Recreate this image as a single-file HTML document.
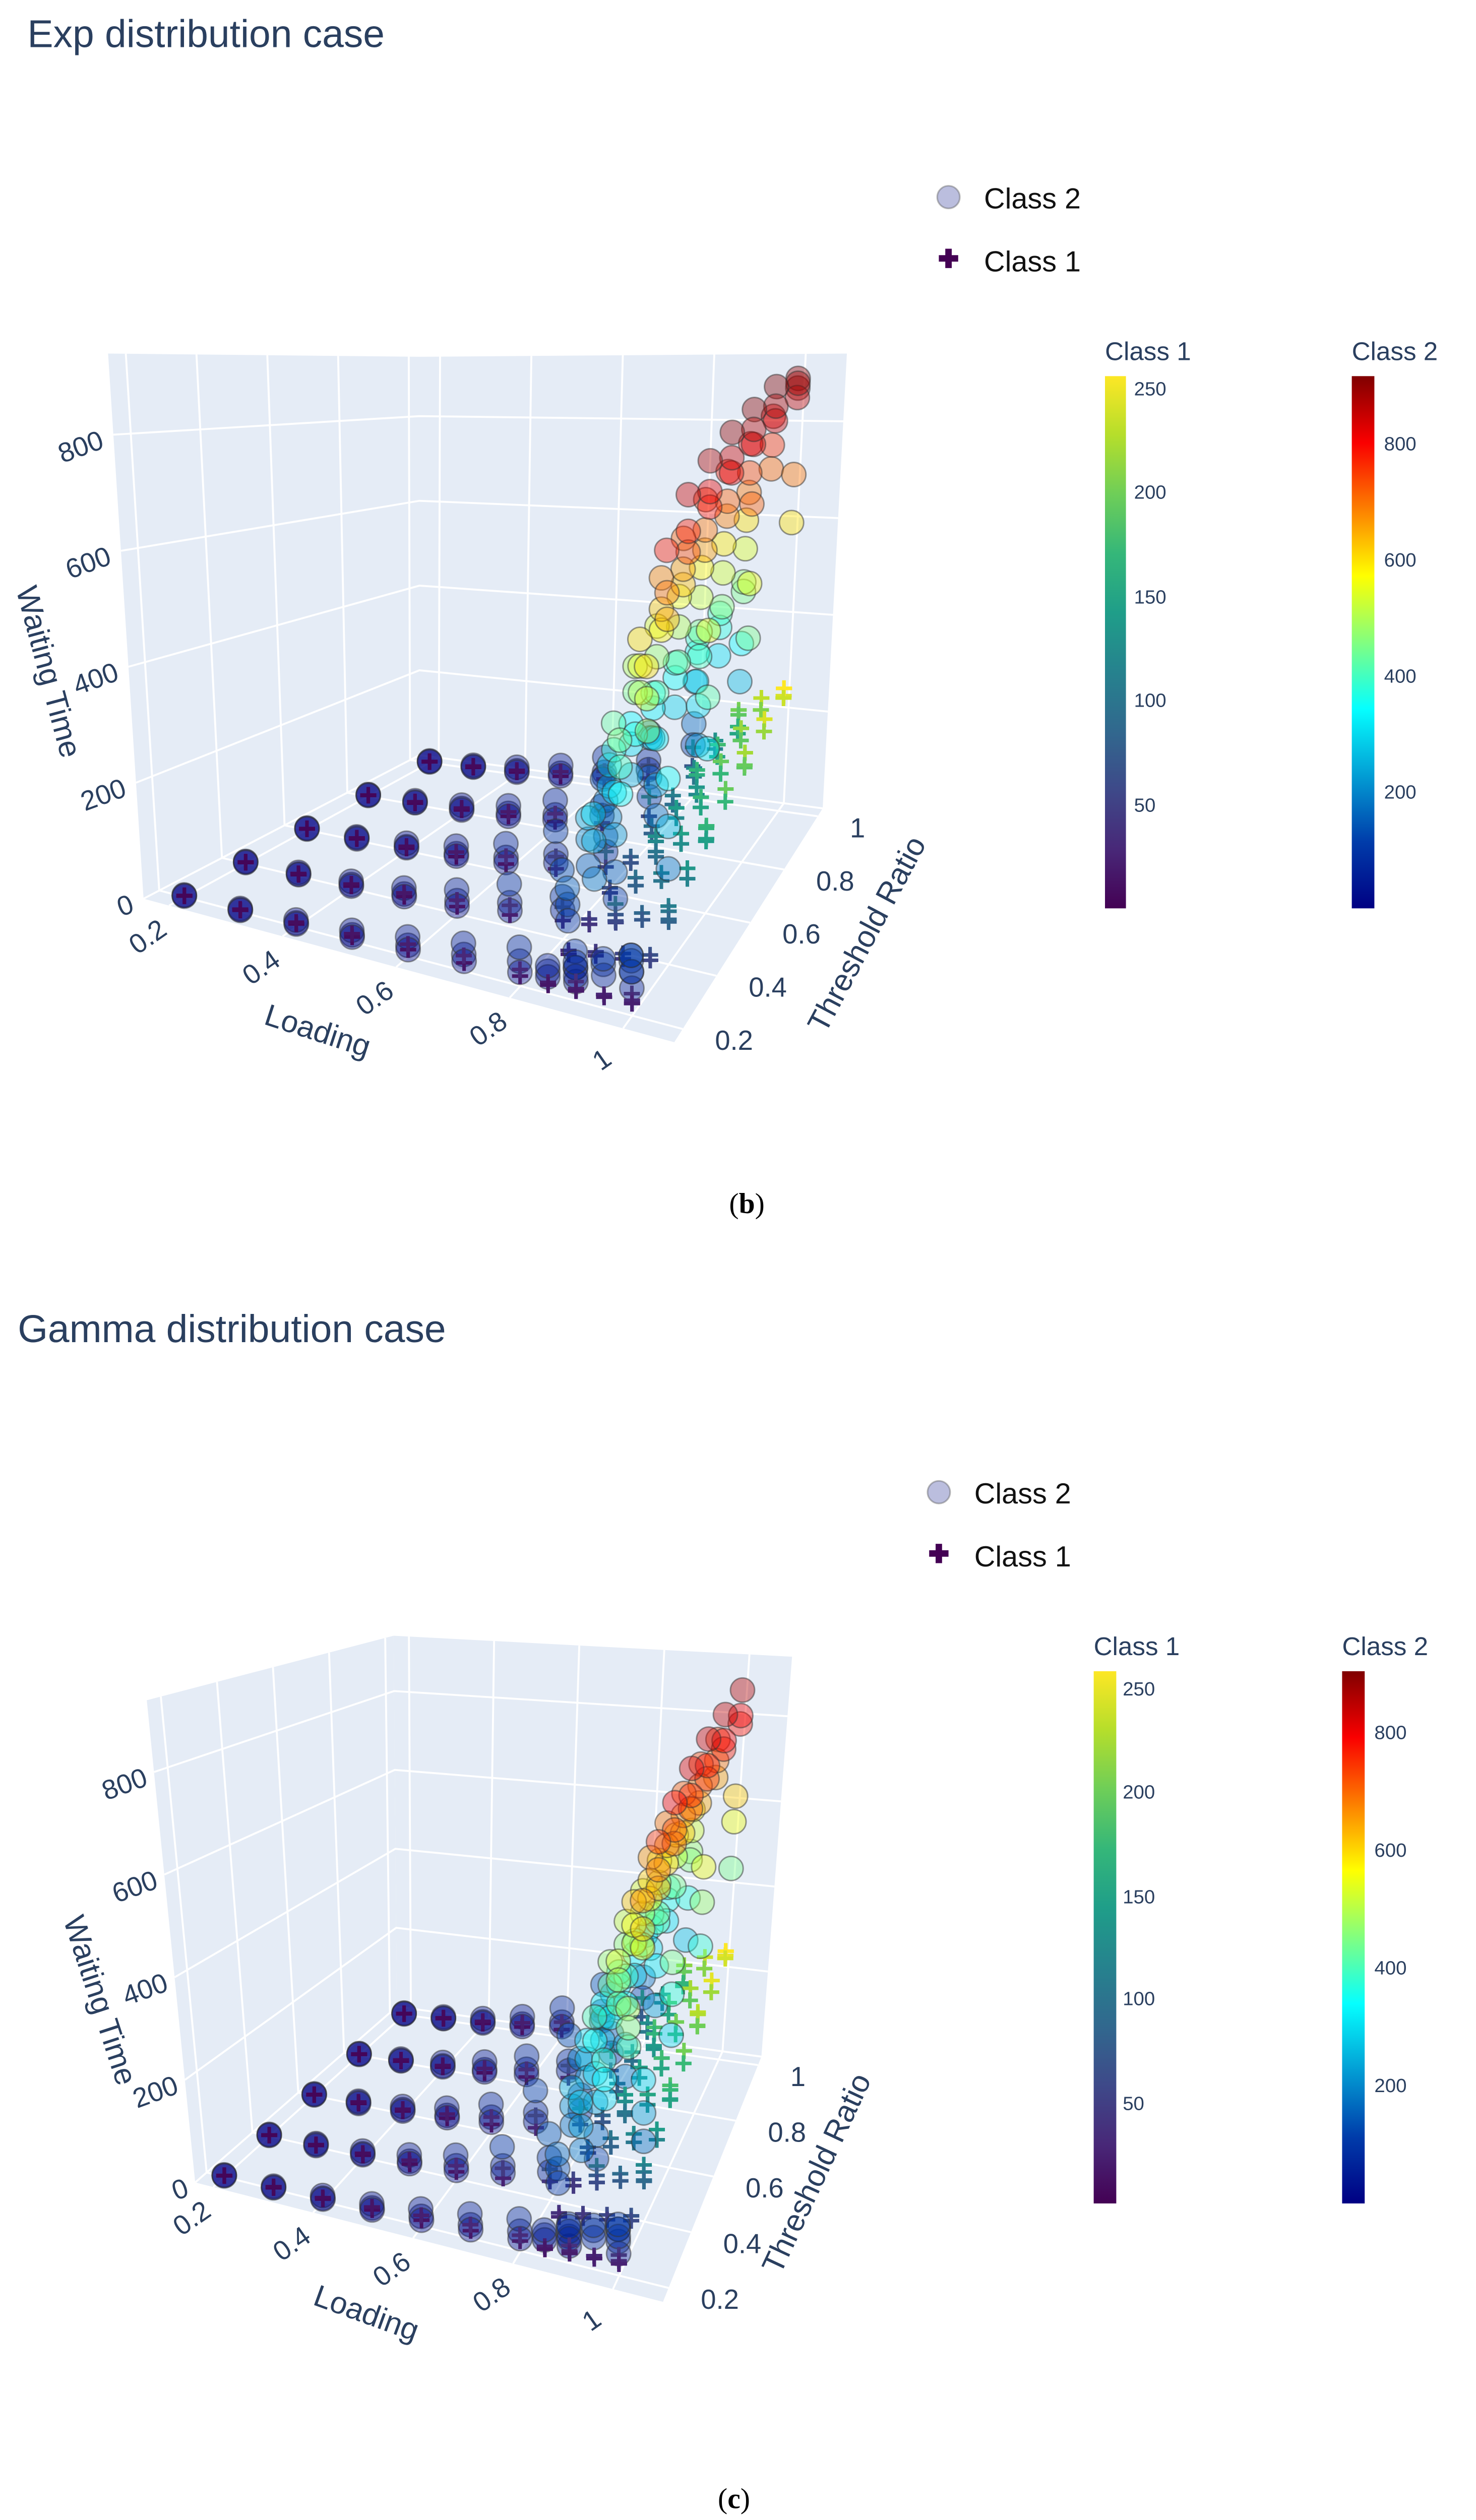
<!DOCTYPE html>
<html><head><meta charset="utf-8">
<style>
html,body{margin:0;padding:0;background:#fff;overflow:hidden;width:2928px;height:5067px;position:relative;}
svg{display:block;position:absolute;left:0;top:0;}
text{font-family:"Liberation Sans","DejaVu Sans",sans-serif;fill:#2a3f5f;}
</style></head>
<body>
<svg id="fig" width="2928" height="5067" viewBox="0 0 915 1583" xmlns="http://www.w3.org/2000/svg" overflow="hidden">
<defs>
<linearGradient id="gViridis" x1="0" y1="1" x2="0" y2="0">
<stop offset="0" stop-color="#440154"/><stop offset="0.111" stop-color="#482878"/><stop offset="0.222" stop-color="#3e4989"/><stop offset="0.333" stop-color="#31688e"/><stop offset="0.444" stop-color="#26828e"/><stop offset="0.556" stop-color="#1f9e89"/><stop offset="0.667" stop-color="#35b779"/><stop offset="0.778" stop-color="#6ece58"/><stop offset="0.889" stop-color="#b5de2b"/><stop offset="1" stop-color="#fde725"/>
</linearGradient>
<linearGradient id="gJet" x1="0" y1="1" x2="0" y2="0">
<stop offset="0" stop-color="rgb(0,0,131)"/><stop offset="0.125" stop-color="rgb(0,60,170)"/><stop offset="0.375" stop-color="rgb(5,255,255)"/><stop offset="0.625" stop-color="rgb(255,255,0)"/><stop offset="0.875" stop-color="rgb(250,0,0)"/><stop offset="1" stop-color="rgb(128,0,0)"/>
</linearGradient>
</defs>

<g>
<text x="17" y="29" font-size="24">Exp distribution case</text>
<g>
<circle cx="588" cy="122" r="7" fill="rgb(60,70,160)" fill-opacity="0.35" stroke="#555" stroke-opacity="0.4"/>
<text x="610" y="129" font-size="18" style="fill:#111">Class 2</text>
<path d="M582,160h12M588,154v12" stroke="#440154" stroke-width="4"/>
<text x="610" y="168" font-size="18" style="fill:#111">Class 1</text>
</g>
<g id="sceneB"></g>
<g>
<text x="685" y="223" font-size="16">Class 1</text>
<rect x="685" y="233" width="13" height="330" fill="url(#gViridis)"/>
<g font-size="12"><text x="703" y="245">250</text><text x="703" y="309">200</text><text x="703" y="374">150</text><text x="703" y="438">100</text><text x="703" y="503">50</text></g>
</g>
<g>
<text x="838" y="223" font-size="16">Class 2</text>
<rect x="838" y="233" width="14" height="330" fill="url(#gJet)"/>
<g font-size="12"><text x="858" y="279">800</text><text x="858" y="351">600</text><text x="858" y="423">400</text><text x="858" y="495">200</text></g>
</g>
<text x="452" y="752" font-size="18" style="font-family:'Liberation Serif',serif;fill:#000">(<tspan font-weight="bold">b</tspan>)</text>
</g>

<g>
<text x="11" y="832" font-size="24">Gamma distribution case</text>
<g>
<circle cx="582" cy="925" r="7" fill="rgb(60,70,160)" fill-opacity="0.35" stroke="#555" stroke-opacity="0.4"/>
<text x="604" y="932" font-size="18" style="fill:#111">Class 2</text>
<path d="M576,963h12M582,957v12" stroke="#440154" stroke-width="4"/>
<text x="604" y="971" font-size="18" style="fill:#111">Class 1</text>
</g>
<g id="sceneC"></g>
<g>
<text x="678" y="1026" font-size="16">Class 1</text>
<rect x="678" y="1036" width="14" height="330" fill="url(#gViridis)"/>
<g font-size="12"><text x="696" y="1051">250</text><text x="696" y="1115">200</text><text x="696" y="1180">150</text><text x="696" y="1243">100</text><text x="696" y="1308">50</text></g>
</g>
<g>
<text x="832" y="1026" font-size="16">Class 2</text>
<rect x="832" y="1036" width="14" height="330" fill="url(#gJet)"/>
<g font-size="12"><text x="852" y="1078">800</text><text x="852" y="1151">600</text><text x="852" y="1224">400</text><text x="852" y="1297">200</text></g>
</g>
<text x="445" y="1555" font-size="18" style="font-family:'Liberation Serif',serif;fill:#000">(<tspan font-weight="bold">c</tspan>)</text>
</g>
</svg>

<script>
// ---- shared categories ----
const loads = [0.2,0.3,0.4,0.5,0.6,0.7,0.8,0.9,1.0];
const thrs = [0.2,0.4,0.6,0.8,1.0];
const hiLoads = [0.85,0.9,0.95,1.0];
const hiThrs = [0.2,0.3,0.4,0.5,0.6,0.7,0.8,0.9,1.0];
const loadTicks = [0.2,0.4,0.6,0.8,1];
const thrTicks = [0.2,0.4,0.6,0.8,1];
const waitTicks = [0,200,400,600,800];

// ---- Exp case data ----
const expC2A = [[3,3,3,3,3],[4,4,5,5,5],[7,8,8,9,9],[12,14,15,16,17],[20,25,28,30,32],[30,45,55,65,70],[45,80,110,140,160],[60,150,230,300,340],[80,260,420,560,700]];
const expC2B = [[4,4,4,4,4],[6,7,7,8,8],[12,14,15,16,17],[20,25,30,32,34],[35,45,55,60,65],[50,80,100,120,130],[70,130,180,220,250],[90,220,320,400,450],[110,350,550,720,880]];
const expC2C = [[2,2,2,2,2],[3,3,3,4,4],[5,5,6,6,6],[8,9,10,10,11],[12,15,18,20,22],[18,30,38,45,50],[25,55,80,100,115],[35,100,170,220,260],[50,180,320,450,600]];
const expC2HiA = [[40,120,200,260,300,330,350,360,370],[60,250,380,450,480,500,520,530,540],[80,450,600,680,720,760,780,800,820],[100,600,780,850,880,900,910,920,900]];
const expC2HiB = [[30,90,150,200,240,270,290,300,310],[45,180,300,370,410,430,450,460,470],[60,350,500,580,630,660,690,700,710],[80,480,650,740,790,820,840,850,860]];
const expC2HiC = [[50,150,240,300,340,360,380,390,400],[70,300,430,500,540,560,580,590,600],[90,400,550,620,660,700,720,740,760],[110,540,700,780,820,850,870,880,890]];
const expC1A = [[2,2,2,2,2],[3,3,3,3,3],[5,5,5,6,6],[8,9,9,10,10],[12,14,15,16,17],[15,22,26,30,32],[18,35,50,60,70],[20,55,90,120,150],[22,80,140,190,240]];
const expC1B = [[3,3,3,3,3],[5,5,5,6,6],[8,9,9,10,10],[14,16,18,19,20],[22,26,30,32,34],[28,40,50,55,60],[30,60,80,100,110],[35,90,130,170,200],[40,110,170,220,255]];
const expC1HiA = [[20,35,50,65,80,95,110,120,130],[22,45,70,95,120,140,160,175,190],[25,55,85,115,145,170,195,215,230],[28,65,100,135,165,195,220,240,255]];
const expC1HiB = [[15,28,40,55,68,80,92,102,112],[18,38,58,80,100,120,135,150,165],[20,45,72,100,125,150,170,190,205],[22,55,85,115,145,170,195,215,235]];

// ---- Gamma case data ----
const gamC2A = [[3,3,3,3,3],[4,5,5,5,5],[7,8,9,9,10],[12,15,16,17,18],[20,28,32,35,36],[28,50,62,70,75],[40,90,120,150,170],[55,160,250,320,370],[70,230,380,480,560]];
const gamC2B = [[4,4,4,4,4],[6,7,8,8,8],[12,14,16,17,18],[20,28,32,35,36],[35,50,60,65,70],[50,90,110,130,140],[65,140,200,240,270],[80,230,340,420,480],[95,300,450,560,620]];
const gamC2C = [[2,2,2,2,2],[3,3,3,4,4],[5,6,6,7,7],[8,10,11,12,12],[12,18,21,23,25],[18,35,42,48,52],[25,60,85,105,120],[35,110,180,230,270],[45,170,290,380,450]];
const gamC2HiA = [[45,130,210,260,300,320,340,350,360],[65,230,360,430,470,490,510,520,530],[80,380,540,620,670,700,720,740,750],[95,500,680,760,800,830,850,860,870]];
const gamC2HiB = [[35,100,170,220,250,270,290,300,310],[50,180,290,360,400,420,440,450,460],[65,300,450,530,580,610,630,650,660],[80,420,580,660,710,740,760,780,790]];
const gamC2HiC = [[55,160,250,300,330,350,370,380,390],[75,280,410,480,520,540,560,570,580],[90,340,500,570,620,650,670,690,700],[105,460,620,700,740,770,790,800,810]];
const gamC1A = [[2,2,2,2,2],[3,3,3,3,4],[5,5,6,6,6],[8,9,10,10,11],[12,15,16,17,18],[16,24,28,32,34],[20,40,55,65,75],[22,60,95,130,160],[25,85,150,200,245]];
const gamC1B = [[3,3,3,3,3],[5,5,6,6,6],[8,9,10,10,11],[14,17,19,20,21],[22,28,32,34,36],[28,45,55,60,65],[32,65,90,110,120],[36,95,140,180,210],[42,120,180,230,255]];
const gamC1HiA = [[22,38,55,70,85,100,115,125,135],[25,48,75,100,125,145,165,180,195],[28,58,90,120,150,175,200,220,235],[30,68,105,140,170,200,225,245,255]];
const gamC1HiB = [[16,30,42,58,70,82,95,105,115],[20,40,60,82,102,122,138,152,168],[22,48,75,102,128,152,172,192,208],[24,58,88,118,148,172,198,218,238]];

// ---- scene geometry (not data) ----
const sceneB = {l0:0.155,l1:1.09,t0:0.15,t1:1.03,zmax:940,zoff:-5,
  f00:[89,557],f10:[418,646],f01:[260,468],f11:[510,501],
  h00:[-22,338],h10:[-6,320],h01:[0,247],h11:[15,282]};
const sceneC = {l0:0.164,l1:1.10,t0:0.15,t1:1.03,zmax:940,zoff:-3,
  f00:[121,1353],f10:[411,1427],f01:[246,1244],f11:[472,1275],
  h00:[-30,299],h10:[-6,285],h01:[-2,230],h11:[19,248]};

function proj(sc,l,t,z){
  const u=(l-sc.l0)/(sc.l1-sc.l0), v=(t-sc.t0)/(sc.t1-sc.t0), w=z/sc.zmax;
  const a=(1-u)*(1-v), b=u*(1-v), c=(1-u)*v, d=u*v;
  const fx=a*sc.f00[0]+b*sc.f10[0]+c*sc.f01[0]+d*sc.f11[0];
  const fy=a*sc.f00[1]+b*sc.f10[1]+c*sc.f01[1]+d*sc.f11[1];
  const hx=a*sc.h00[0]+b*sc.h10[0]+c*sc.h01[0]+d*sc.h11[0];
  const hy=a*sc.h00[1]+b*sc.h10[1]+c*sc.h01[1]+d*sc.h11[1];
  return [fx+w*hx, fy-w*hy];
}
function lerpColor(stops,x){
  x=Math.max(0,Math.min(1,x));
  for(let i=1;i<stops.length;i++){
    if(x<=stops[i][0]){const s=stops[i-1],e=stops[i],f=(x-s[0])/(e[0]-s[0]||1);
      return 'rgb('+[0,1,2].map(k=>Math.round(s[1][k]+f*(e[1][k]-s[1][k]))).join(',')+')';}
  }
  const l=stops[stops.length-1][1];return 'rgb('+l.join(',')+')';
}
const jet=[[0,[0,0,131]],[0.125,[0,60,170]],[0.375,[5,255,255]],[0.625,[255,255,0]],[0.875,[250,0,0]],[1,[128,0,0]]];
const vir=[[0,[68,1,84]],[0.111,[72,40,120]],[0.222,[62,73,137]],[0.333,[49,104,142]],[0.444,[38,130,142]],[0.556,[31,158,137]],[0.667,[53,183,121]],[0.778,[110,206,88]],[0.889,[181,222,43]],[1,[253,231,37]]];
const NS='http://www.w3.org/2000/svg';
function mk(tag,attrs,parent){const e=document.createElementNS(NS,tag);for(const k in attrs)e.setAttribute(k,attrs[k]);parent.appendChild(e);return e;}
function pts(arr){return arr.map(p=>p[0].toFixed(1)+','+p[1].toFixed(1)).join(' ');}

function drawScene(g,sc,c2Tables,c2Hi,c1Tables,c1Hi,lab){
  const L0=sc.l0,L1=sc.l1,T0=sc.t0,T1=sc.t1,Z=sc.zmax;
  const floor=mk('polygon',{points:pts([proj(sc,L0,T0,0),proj(sc,L1,T0,0),proj(sc,L1,T1,0),proj(sc,L0,T1,0)]),fill:'#e5ecf6'},g);
  
  
  const lw=mk('polygon',{points:pts([proj(sc,L0,T0,0),proj(sc,L0,T1,0),proj(sc,L0,T1,Z),proj(sc,L0,T0,Z)]),fill:'#e5ecf6'},g);
  
  
  const bw=mk('polygon',{points:pts([proj(sc,L0,T1,0),proj(sc,L1,T1,0),proj(sc,L1,T1,Z),proj(sc,L0,T1,Z)]),fill:'#e5ecf6'},g);
  
  
  const grid=mk('g',{stroke:'#fff','stroke-width':1.2,fill:'none'},g);
  
  
  loadTicks.forEach(l=>{
    mk('polyline',{points:pts([proj(sc,l,T0,0),proj(sc,l,T1,0),proj(sc,l,T1,Z)])},grid);
  });
  thrTicks.forEach(t=>{
    mk('polyline',{points:pts([proj(sc,L1,t,0),proj(sc,L0,t,0),proj(sc,L0,t,Z)])},grid);
  });
  waitTicks.forEach(z=>{
    mk('polyline',{points:pts([proj(sc,L0,T0,z),proj(sc,L0,T1,z),proj(sc,L1,T1,z)])},grid);
  });
  const tl=mk('g',{'font-size':17},g);
  
  
  loadTicks.forEach(l=>{
    const p=proj(sc,l,T0,0);
    const x=p[0]-10,y=p[1]+24;
    const t=mk('text',{x:x,y:y,'text-anchor':'middle',transform:'rotate(-35 '+x+' '+y+')'},tl);
    t.textContent=String(l);
    
    
  });
  thrTicks.forEach(v=>{
    const p=proj(sc,L1,v,0);
    const t=mk('text',{x:p[0]+20,y:p[1]+13,'text-anchor':'start'},tl);
    t.textContent=String(v);
    
    
  });
  waitTicks.forEach(z=>{
    const p=proj(sc,L0,T0,z);
    const x=p[0]+sc.zoff,y=p[1]+8;
    const t=mk('text',{x:x,y:y,'text-anchor':'end',transform:'rotate(-20 '+x+' '+y+')'},tl);
    t.textContent=String(z);
    
    
  });
  [[lab.wt,'Waiting Time','waiting-time-axis-title'],[lab.ld,'Loading','loading-axis-title'],[lab.th,'Threshold Ratio','threshold-axis-title']].forEach(a=>{
    const t=mk('text',{x:a[0][0],y:a[0][1],'font-size':19,'text-anchor':'middle',transform:'rotate('+a[0][2]+' '+a[0][0]+' '+a[0][1]+')'},g);
    t.textContent=a[1];
    
    
  });
  const marks=[];
  c2Tables.forEach(tb=>tb.forEach((row,i)=>row.forEach((w,j)=>marks.push({c:2,l:loads[i],t:thrs[j],z:w}))));
  c2Hi.forEach(tb=>tb.forEach((row,i)=>row.forEach((w,j)=>marks.push({c:2,l:hiLoads[i],t:hiThrs[j],z:w}))));
  c1Tables.forEach(tb=>tb.forEach((row,i)=>row.forEach((w,j)=>marks.push({c:1,l:loads[i],t:thrs[j],z:w}))));
  c1Hi.forEach(tb=>tb.forEach((row,i)=>row.forEach((w,j)=>marks.push({c:1,l:hiLoads[i],t:hiThrs[j],z:w}))));
  marks.forEach(m=>{m.p=proj(sc,m.l,m.t,m.z);m.d=proj(sc,m.l,m.t,0)[1];});
  marks.sort((a,b)=>a.d-b.d);
  const mg=mk('g',{},g);
  
  
  marks.forEach(m=>{
    const x=m.p[0],y=m.p[1];
    if(m.c===2){
      const e=mk('circle',{cx:x.toFixed(1),cy:y.toFixed(1),r:7.5,fill:lerpColor(jet,m.z/917),'fill-opacity':0.4,stroke:'#333','stroke-opacity':0.5,'stroke-width':0.9},mg);
      
      
    } else {
      const e=mk('path',{d:'M'+(x-5).toFixed(1)+','+y.toFixed(1)+'h10M'+x.toFixed(1)+','+(y-5).toFixed(1)+'v10',stroke:lerpColor(vir,m.z/255),'stroke-width':2.2},mg);
      
      
    }
  });
}
drawScene(document.getElementById('sceneB'),sceneB,[expC2A,expC2B,expC2C],[expC2HiA,expC2HiB,expC2HiC],[expC1A,expC1B],[expC1HiA,expC1HiB],
  {wt:[24,418,75],ld:[195,645,18],th:[543,582,-62]});
drawScene(document.getElementById('sceneC'),sceneC,[gamC2A,gamC2B,gamC2C],[gamC2HiA,gamC2HiB,gamC2HiC],[gamC1A,gamC1B],[gamC1HiA,gamC1HiB],
  {wt:[56,1242,72],ld:[225,1440,20],th:[512,1350,-65]});
</script>
</body></html>
